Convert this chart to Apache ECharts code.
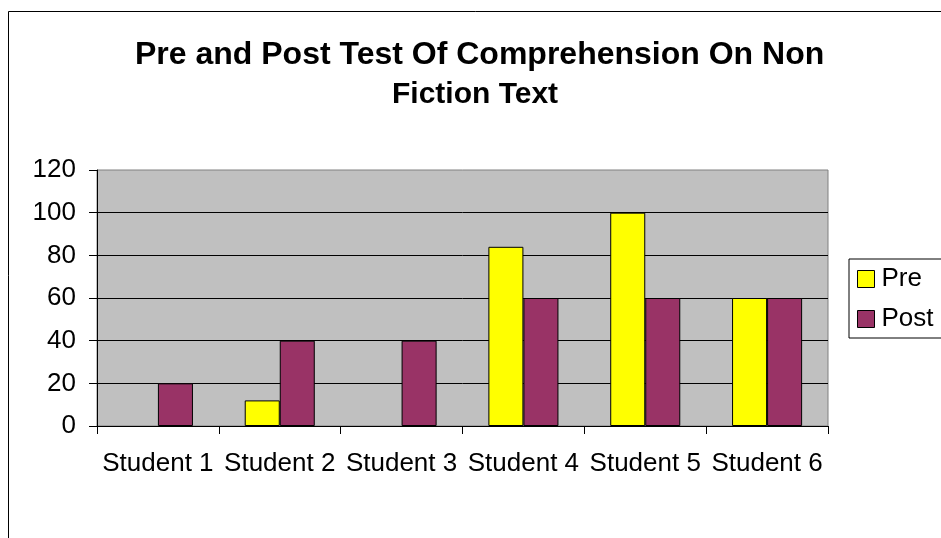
<!DOCTYPE html>
<html>
<head>
<meta charset="utf-8">
<script src="https://cdn.jsdelivr.net/npm/echarts@6/dist/echarts.min.js"></script>
<style>
html,body{margin:0;padding:0;background:#fff;}
#c{width:941px;height:538px;}
</style>
</head>
<body>
<div id="c"></div>
<script>
const categories = ['Student 1','Student 2','Student 3','Student 4','Student 5','Student 6'];
const preValues = [0, 12, 0, 84, 100, 60];
const postValues = [20, 40, 40, 60, 60, 60];
const yTicks = {min: 0, max: 120, interval: 20};
const titleLines = ['Pre and Post Test Of Comprehension On Non', 'Fiction Text'];

const FONT = "'Liberation Sans', Arial, sans-serif";
function toBarData(arr) {
  return arr.map(v => v === 0 ? {value: v, itemStyle: {borderWidth: 0}} : v);
}
const chart = echarts.init(document.getElementById('c'), null, {renderer: 'canvas'});
chart.setOption({
  animation: false,
  backgroundColor: '#ffffff',
  graphic: [{
    type: 'rect', z: -10, silent: true,
    shape: {x: 8.5, y: 11.5, width: 1000, height: 700},
    style: {fill: 'none', stroke: '#000', lineWidth: 1}
  }],
  title: [
    {text: titleLines[0], left: 135, top: 39,
     textStyle: {fontFamily: FONT, fontSize: 32, fontWeight: 'bold', color: '#000'}, padding: 0},
    {text: titleLines[1], left: 392, top: 80,
     textStyle: {fontFamily: FONT, fontSize: 30, fontWeight: 'bold', color: '#000'}, padding: 0}
  ],
  legend: {
    orient: 'vertical', left: 849, top: 259,
    padding: [7, 30, 6, 8],
    borderColor: '#000', borderWidth: 1,
    itemWidth: 17, itemHeight: 17, itemGap: 14,
    icon: 'rect',
    itemStyle: {borderColor: '#000', borderWidth: 1},
    textStyle: {fontFamily: FONT, fontSize: 26, color: '#000', lineHeight: 26, padding: [0,0,0,2]},
    data: ['Pre', 'Post']
  },
  grid: {
    left: 97, right: 113, top: 170, bottom: 112,
    show: true, backgroundColor: '#C0C0C0', borderColor: '#808080', borderWidth: 1
  },
  xAxis: {
    type: 'category', data: categories,
    axisLine: {lineStyle: {color: '#000', width: 1}},
    axisTick: {show: true, length: 8, alignWithLabel: false, lineStyle: {color: '#000'}},
    axisLabel: {fontFamily: FONT, fontSize: 26, color: '#000', margin: 25, interval: 0},
    splitLine: {show: false}
  },
  yAxis: {
    type: 'value', min: yTicks.min, max: yTicks.max, interval: yTicks.interval,
    axisLine: {show: true, lineStyle: {color: '#000', width: 1}},
    axisTick: {show: true, length: 8, lineStyle: {color: '#000'}},
    axisLabel: {fontFamily: FONT, fontSize: 26, color: '#000', margin: 21, padding: [6,0,0,0]},
    splitLine: {show: true, showMaxLine: false, lineStyle: {color: '#000', width: 1}}
  },
  series: [
    {name: 'Pre', type: 'bar', data: toBarData(preValues), barGap: '0%', barCategoryGap: '42.5%',
     itemStyle: {color: '#FFFF00', borderColor: '#000', borderWidth: 1}},
    {name: 'Post', type: 'bar', data: toBarData(postValues), barGap: '0%', barCategoryGap: '42.5%',
     itemStyle: {color: '#993366', borderColor: '#000', borderWidth: 1}}
  ]
});
</script>
</body>
</html>
